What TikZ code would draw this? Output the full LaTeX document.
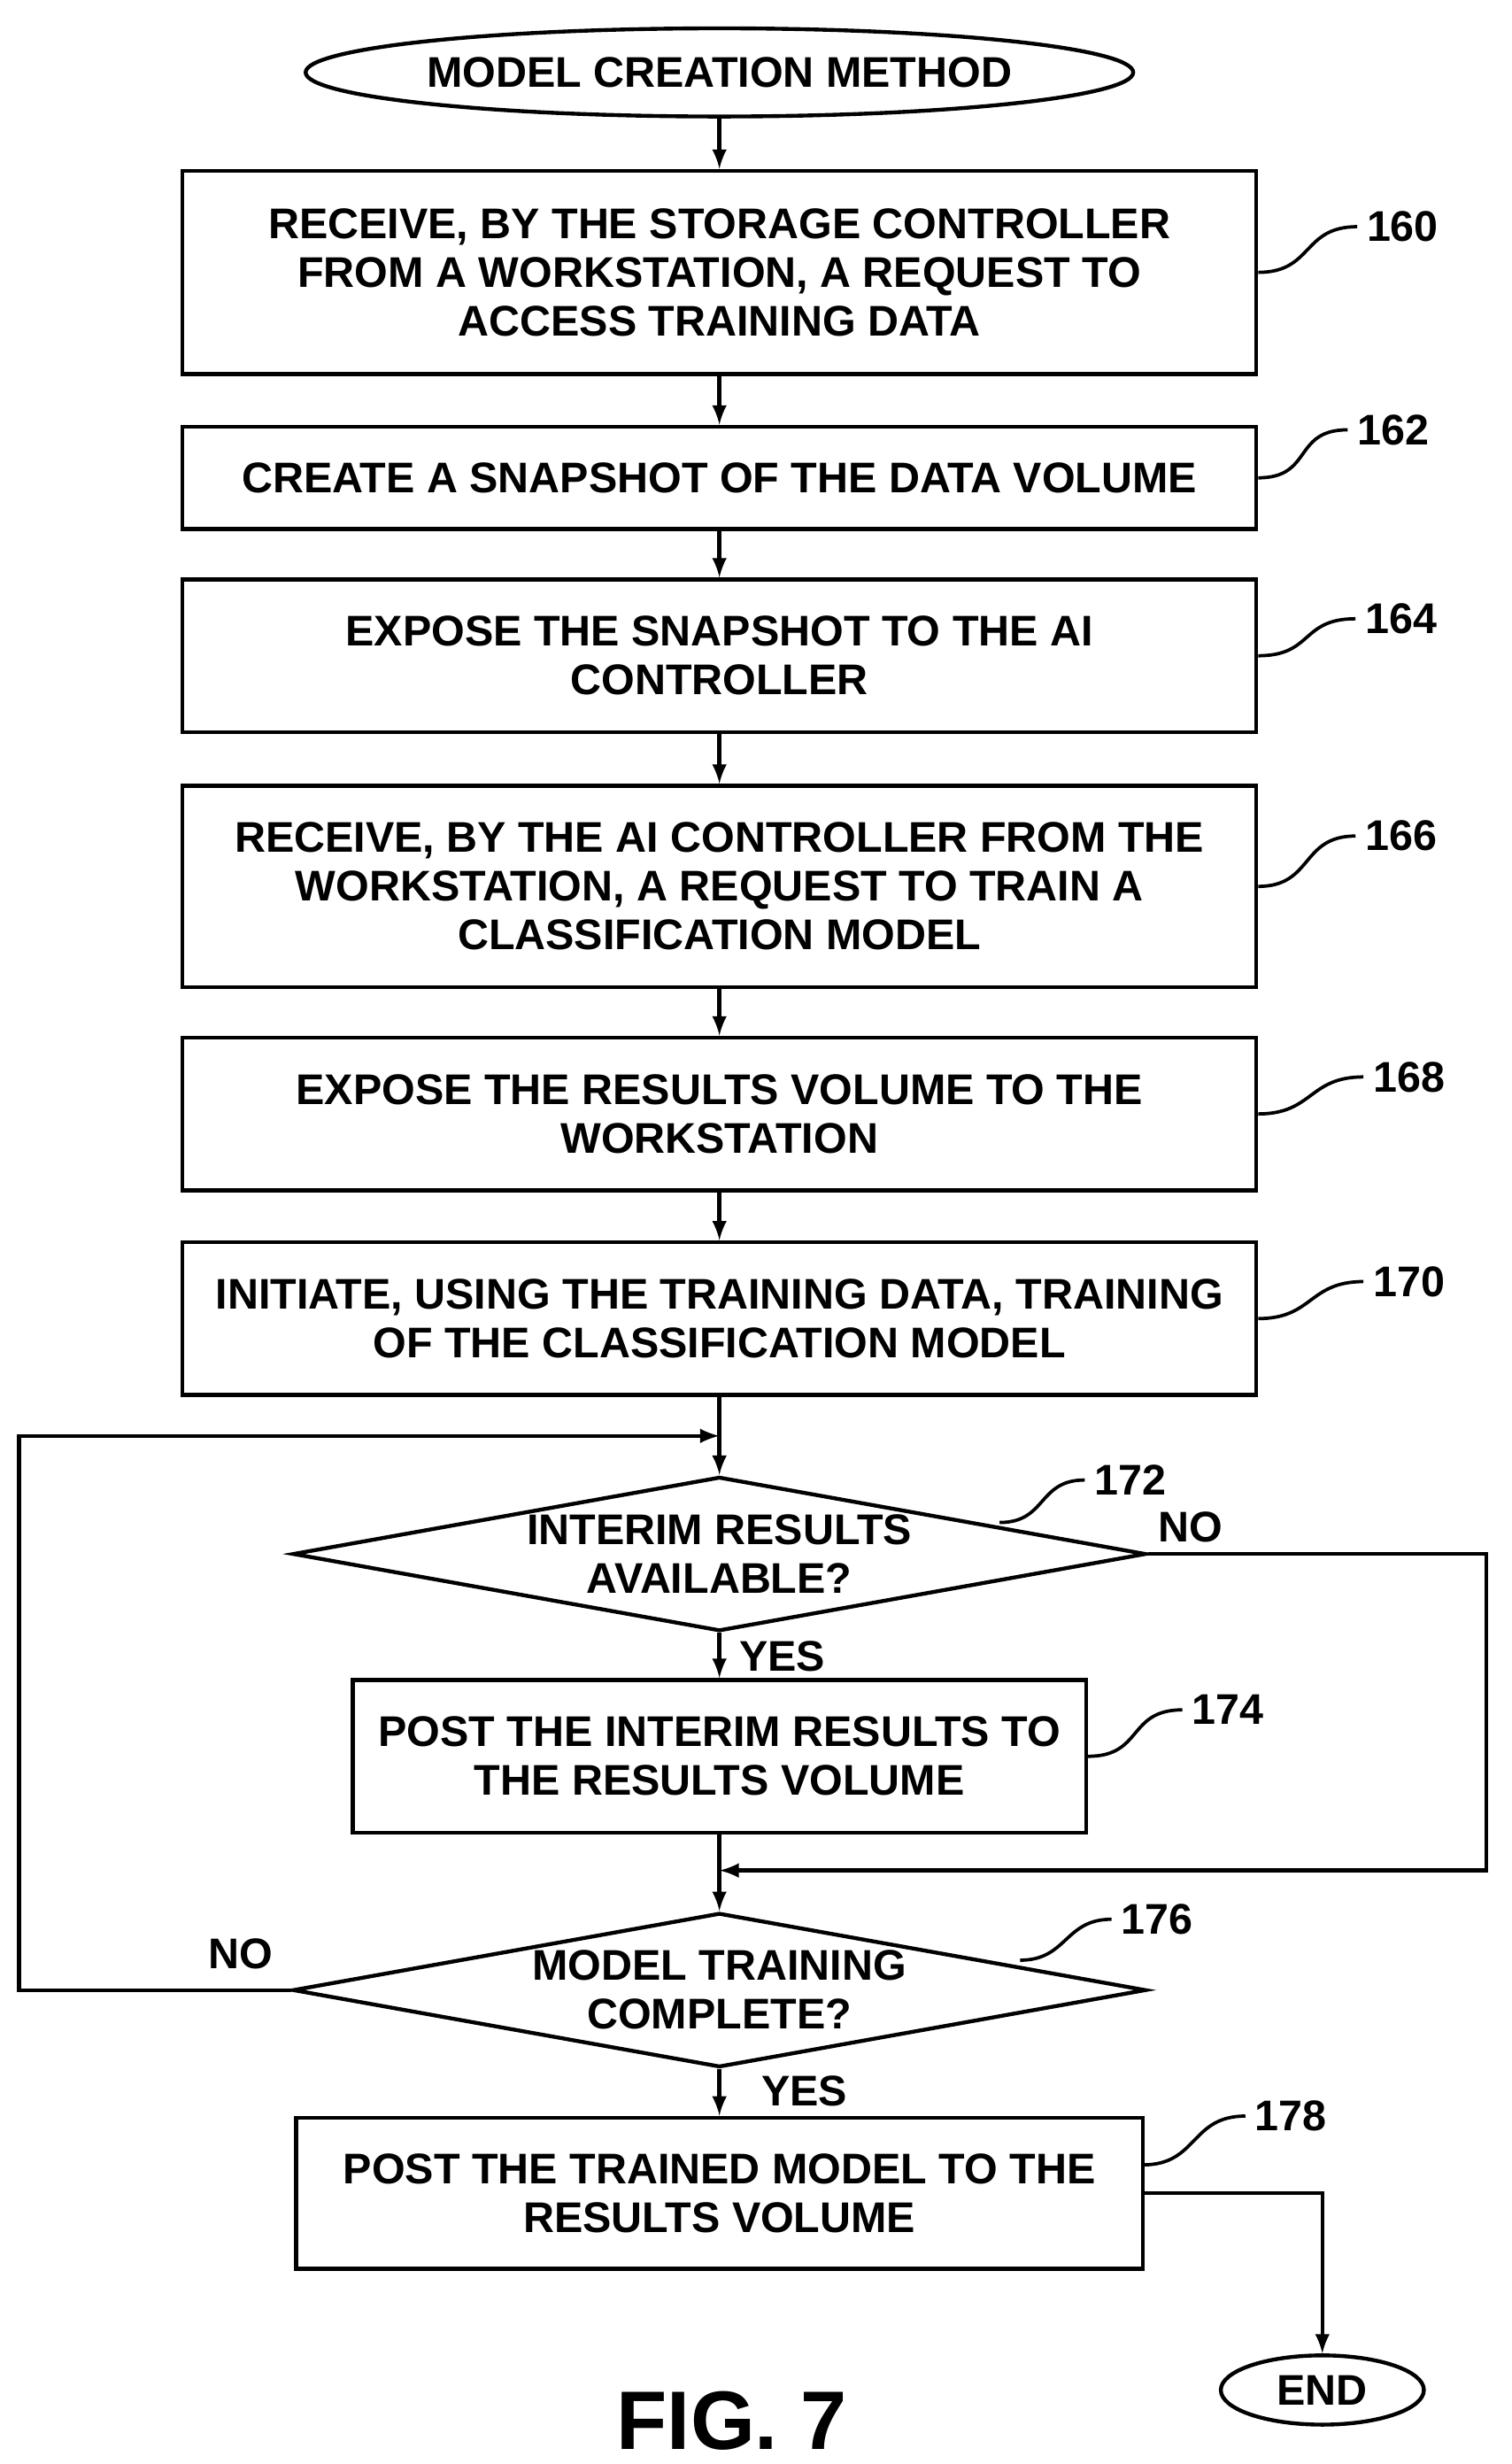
\documentclass[tikz,border=0pt]{standalone}
\usepackage{fontspec}
\setmainfont{Liberation Sans}
\usetikzlibrary{shapes.geometric,positioning}
\tikzset{
  box/.style={draw,line width=1.4pt,align=center,inner sep=0pt,font=\bfseries\fontsize{15.5}{17.6}\selectfont},
  dec/.style={draw,diamond,line width=1.4pt,align=center,inner sep=0pt,minimum width=10.84cm,minimum height=1.96cm,aspect=5.5,font=\bfseries\fontsize{15.5}{17.6}\selectfont},
  term/.style={draw,ellipse,line width=1.4pt,inner sep=0pt,font=\bfseries\fontsize{15.5}{17.6}\selectfont},
  lbl/.style={font=\bfseries\fontsize{15.5}{17.6}\selectfont},
  flow/.style={line width=1.4pt,-latex},
  sq/.style={line width=1.2pt}
}
\begin{document}
\begin{tikzpicture}
\useasboundingbox (0,0) rectangle (19.2,-31.3);
% terminals and boxes
\node[term,minimum width=9.32cm,minimum height=1.12cm] (start) at (9.14,-0.92) {MODEL CREATION METHOD};
\node[box,minimum width=13.64cm,minimum height=2.58cm] (s160) at (9.14,-3.46) {RECEIVE, BY THE STORAGE CONTROLLER\\FROM A WORKSTATION, A REQUEST TO\\ACCESS TRAINING DATA};
\node[box,minimum width=13.64cm,minimum height=1.3cm] (s162) at (9.14,-6.07) {CREATE A SNAPSHOT OF THE DATA VOLUME};
\node[box,minimum width=13.64cm,minimum height=1.94cm] (s164) at (9.14,-8.33) {EXPOSE THE SNAPSHOT TO THE AI\\CONTROLLER};
\node[box,minimum width=13.64cm,minimum height=2.56cm] (s166) at (9.14,-11.26) {RECEIVE, BY THE AI CONTROLLER FROM THE\\WORKSTATION, A REQUEST TO TRAIN A\\CLASSIFICATION MODEL};
\node[box,minimum width=13.64cm,minimum height=1.94cm] (s168) at (9.14,-14.15) {EXPOSE THE RESULTS VOLUME TO THE\\WORKSTATION};
\node[box,minimum width=13.64cm,minimum height=1.94cm] (s170) at (9.14,-16.75) {INITIATE, USING THE TRAINING DATA, TRAINING\\OF THE CLASSIFICATION MODEL};
\node[dec] (s172) at (9.14,-19.74) {INTERIM RESULTS\\AVAILABLE?};
\node[box,minimum width=9.32cm,minimum height=1.94cm] (s174) at (9.14,-22.31) {POST THE INTERIM RESULTS TO\\THE RESULTS VOLUME};
\node[dec] (s176) at (9.14,-25.28) {MODEL TRAINING\\COMPLETE?};
\node[box,minimum width=10.76cm,minimum height=1.92cm] (s178) at (9.14,-27.86) {POST THE TRAINED MODEL TO THE\\RESULTS VOLUME};
\node[term,minimum width=2.58cm,minimum height=0.88cm] (end) at (16.8,-30.36) {END};
\node[font=\bfseries\fontsize{30}{34}\selectfont] (fig) at (9.3,-30.75) {FIG. 7};
% flow
\coordinate (top) at (9.14,-18.24);
\coordinate (join) at (9.14,-23.76);
\draw[flow] (start) -- (s160);
\draw[flow] (s160) -- (s162);
\draw[flow] (s162) -- (s164);
\draw[flow] (s164) -- (s166);
\draw[flow] (s166) -- (s168);
\draw[flow] (s168) -- (s170);
\draw[flow] (s170) -- (s172);
\draw[flow] (s172) -- (s174);
\draw[flow] (s174) -- (s176);
\draw[flow] (s176) -- (s178);
\draw[flow] (s172.east) -- (18.88,-19.74) |- (join);
\draw[flow] (s176.west) -- (0.24,-25.28) |- (top);
\draw[flow] (s178.east) -| (end.north);
\node[lbl] (no1) at (15.12,-19.4) {NO};
\node[lbl] (no2) at (3.06,-24.82) {NO};
\node[lbl] (yes1) at (9.94,-21.04) {YES};
\node[lbl] (yes2) at (10.22,-26.56) {YES};
% reference numbers
\node[lbl] (n160) at (17.82,-2.88) {160};
\node[lbl] (n162) at (17.7,-5.46) {162};
\node[lbl] (n164) at (17.8,-7.86) {164};
\node[lbl] (n166) at (17.8,-10.62) {166};
\node[lbl] (n168) at (17.9,-13.68) {168};
\node[lbl] (n170) at (17.9,-16.28) {170};
\node[lbl] (n172) at (14.36,-18.8) {172};
\node[lbl] (n174) at (15.6,-21.72) {174};
\node[lbl] (n176) at (14.7,-24.38) {176};
\node[lbl] (n178) at (16.4,-26.88) {178};
\draw[sq] (s160.east) .. controls +(0.7,0) and +(-0.7,0) .. (n160.west);
\draw[sq] (s162.east) .. controls +(0.7,0) and +(-0.7,0) .. (n162.west);
\draw[sq] (s164.east) .. controls +(0.7,0) and +(-0.7,0) .. (n164.west);
\draw[sq] (s166.east) .. controls +(0.7,0) and +(-0.7,0) .. (n166.west);
\draw[sq] (s168.east) .. controls +(0.7,0) and +(-0.7,0) .. (n168.west);
\draw[sq] (s170.east) .. controls +(0.7,0) and +(-0.7,0) .. (n170.west);
\draw[sq] (12.7,-19.34) .. controls +(0.6,0) and +(-0.6,0) .. (n172.west);
\draw[sq] (s174.east) .. controls +(0.7,0) and +(-0.7,0) .. (n174.west);
\draw[sq] (12.96,-24.9) .. controls +(0.6,0) and +(-0.6,0) .. (n176.west);
\draw[sq] (14.52,-27.5) .. controls +(0.7,0) and +(-0.7,0) .. (n178.west);
\end{tikzpicture}
\end{document}
